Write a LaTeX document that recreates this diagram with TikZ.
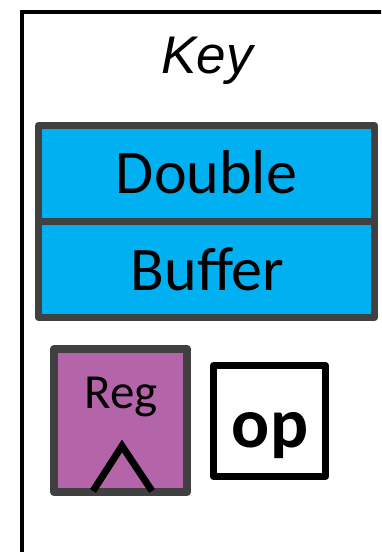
\documentclass[tikz,border=0pt]{standalone}
\usepackage{fontspec}
\setmainfont{Carlito}
\newfontfamily\keyfont{Liberation Sans}
\definecolor{dbblue}{HTML}{00B0F0}
\definecolor{edgegray}{HTML}{404040}
\definecolor{regpurple}{HTML}{B464A9}
\begin{document}
\begin{tikzpicture}[x=1pt,y=-1pt,
  box/.style={rectangle,inner sep=0pt,line join=round},
  lbl/.style={anchor=base,inner sep=0pt}]
\useasboundingbox (0,0) rectangle (381,552);
\clip (0,0) rectangle (381,552);
% outer frame
\coordinate (fbl) at (22,600);
\coordinate (ftl) at (22,12);
\coordinate (ftr) at (420,12);
\draw[line width=4pt] (fbl) -- (ftl) -- (ftr);
% title
\node[lbl] (key) at (207,73) {\fontsize{53}{53}\selectfont\keyfont\itshape Key};
% double buffer
\node[box,draw=edgegray,fill=dbblue,line width=7pt,minimum width=336pt,minimum height=95.5pt] (dbtop) at (206.5,173.25) {};
\node[box,draw=edgegray,fill=dbblue,line width=7pt,minimum width=336pt,minimum height=96.5pt] (dbbot) at (206.5,269.25) {};
\node[lbl] (dbl) at (206.5,193) {\fontsize{62}{62}\selectfont Double};
\node[lbl] (buf) at (207.5,290) {\fontsize{62}{62}\selectfont Buffer};
% register
\node[box,draw=edgegray,fill=regpurple,line width=8pt,minimum width=133pt,minimum height=143pt] (reg) at (120.5,420.5) {};
\node[lbl] (regt) at (121,408) {\fontsize{49}{49}\selectfont Reg};
\coordinate (cl) at (93,491);
\coordinate (ct) at (122,446);
\coordinate (cr) at (152,491);
\draw[line width=7pt] (cl) -- (ct) -- (cr);
% op
\node[box,draw=black,fill=white,line width=7pt,minimum width=112pt,minimum height=111pt] (op) at (269.5,421) {};
\node[lbl] (opt) at (270,447) {\fontsize{71}{71}\selectfont\bfseries op};
\end{tikzpicture}
\end{document}
